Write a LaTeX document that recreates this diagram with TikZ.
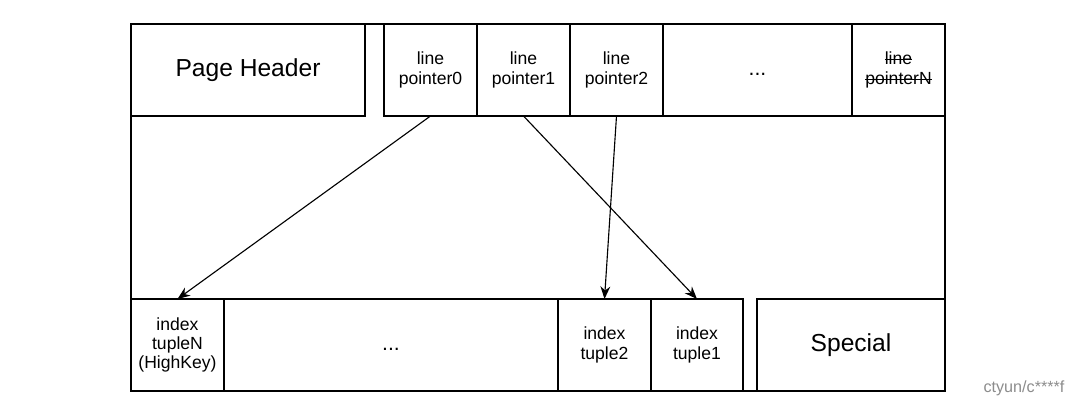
\documentclass[tikz,border=0pt]{standalone}
\usepackage{fontspec}
\setmainfont{Liberation Sans}
\usepackage{tikz}
\usetikzlibrary{arrows.meta, positioning}
\definecolor{page-line}{HTML}{000000}
\definecolor{mark-gray}{HTML}{8C8C8C}
\newsavebox{\strikebox}
\newcommand{\strikeword}[1]{\sbox{\strikebox}{#1}\rlap{\usebox{\strikebox}}\rule[0.26em]{\wd\strikebox}{0.6pt}}

\tikzset{
    cell/.style={draw=page-line, line width=0.8pt, inner sep=0pt, outer sep=0pt,
        minimum width=2.325cm, minimum height=2.3cm, align=center,
        font=\fontsize{12.5}{13.8}\selectfont},
    bigcell/.style={cell, font=\fontsize{17.5}{20}\selectfont},
    dotcell/.style={cell, font=\fontsize{15}{18}\selectfont},
    ptr/.style={draw=page-line, line width=0.8pt, -{Stealth[length=9pt, width=7pt]}}
}

\begin{document}
\begin{tikzpicture}
    \useasboundingbox (0,0) rectangle (26.7,-10.05);
    \draw[page-line, line width=0.8pt] (3.275,-0.6) rectangle (23.625,-9.775);

    \node[bigcell, minimum width=5.85cm, anchor=north west] (header) at (3.275,-0.6) {Page Header};
    \node[cell, anchor=north west] (lp0) at (9.6,-0.6) {line\\pointer0};
    \node[cell, right=0pt of lp0] (lp1) {line\\pointer1};
    \node[cell, right=0pt of lp1] (lp2) {line\\pointer2};
    \node[dotcell, minimum width=4.725cm, right=0pt of lp2] (lpdots) {\strut...};
    \node[cell, right=0pt of lpdots] (lpN) {\strikeword{line}\\\strikeword{pointerN}};

    \node[cell, anchor=south west] (tupN) at (3.275,-9.775) {index\\tupleN\\(HighKey)};
    \node[dotcell, minimum width=8.35cm, right=0pt of tupN] (tupdots) {\strut...};
    \node[cell, right=0pt of tupdots] (tup2) {index\\tuple2};
    \node[cell, minimum width=2.3cm, right=0pt of tup2] (tup1) {index\\tuple1};
    \node[bigcell, minimum width=4.7cm, anchor=south east] (special) at (23.625,-9.775) {Special};

    \draw[ptr] (lp0.south) -- (tupN.north);
    \draw[ptr] (lp1.south) -- (tup1.north);
    \draw[ptr] (lp2.south) -- (tup2.north);

    \node[mark-gray, font=\fontsize{11.5}{13}\selectfont] (mark) at (25.6,-9.7) {ctyun/c****f};
\end{tikzpicture}
\end{document}
